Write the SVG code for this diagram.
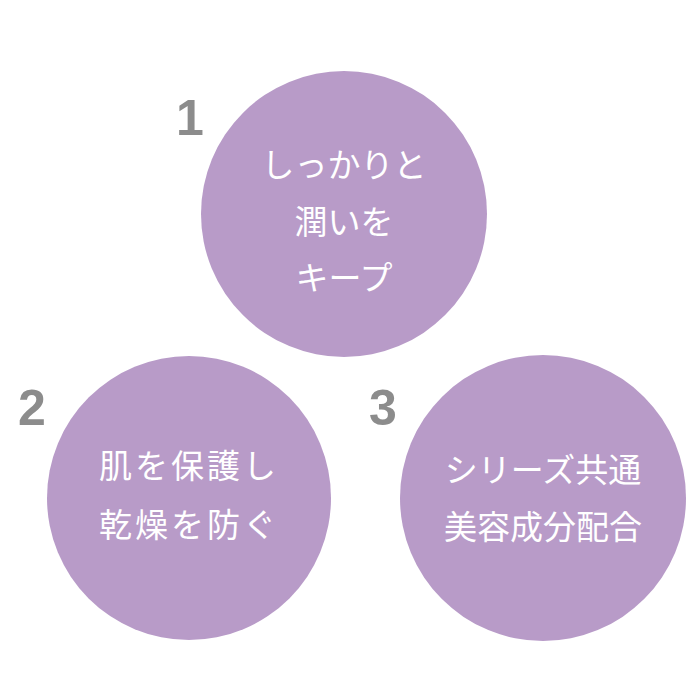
<svg xmlns="http://www.w3.org/2000/svg" width="700" height="700" viewBox="0 0 700 700">
<style>
.c{fill:#b89bc8}
.t{fill:#fff;font-family:"Noto Sans CJK JP","Noto Sans",sans-serif;font-size:33px;text-anchor:middle}
.n{fill:#8c8c8c;font-family:"Liberation Sans",Arial,sans-serif;font-weight:bold;font-size:50px;text-anchor:middle}
</style>
<rect width="700" height="700" fill="#fff"/>
<g id="node1">
<circle class="c" cx="344" cy="214" r="143"/>
<text class="n" x="190" y="135">1</text>
<text class="t" x="344" y="177">しっかりと</text>
<text class="t" x="344" y="234">潤いを</text>
<text class="t" x="344" y="290">キープ</text>
</g>
<g id="node2">
<circle class="c" cx="189" cy="498" r="142"/>
<text class="n" x="32" y="425">2</text>
<text class="t" x="189" y="478" letter-spacing="3">肌を保護し</text>
<text class="t" x="189" y="537" letter-spacing="3">乾燥を防ぐ</text>
</g>
<g id="node3">
<circle class="c" cx="543" cy="498" r="143"/>
<text class="n" x="383" y="425">3</text>
<text class="t" x="543" y="482">シリーズ共通</text>
<text class="t" x="543" y="539">美容成分配合</text>
</g>
<g id="connectors"/>
</svg>
